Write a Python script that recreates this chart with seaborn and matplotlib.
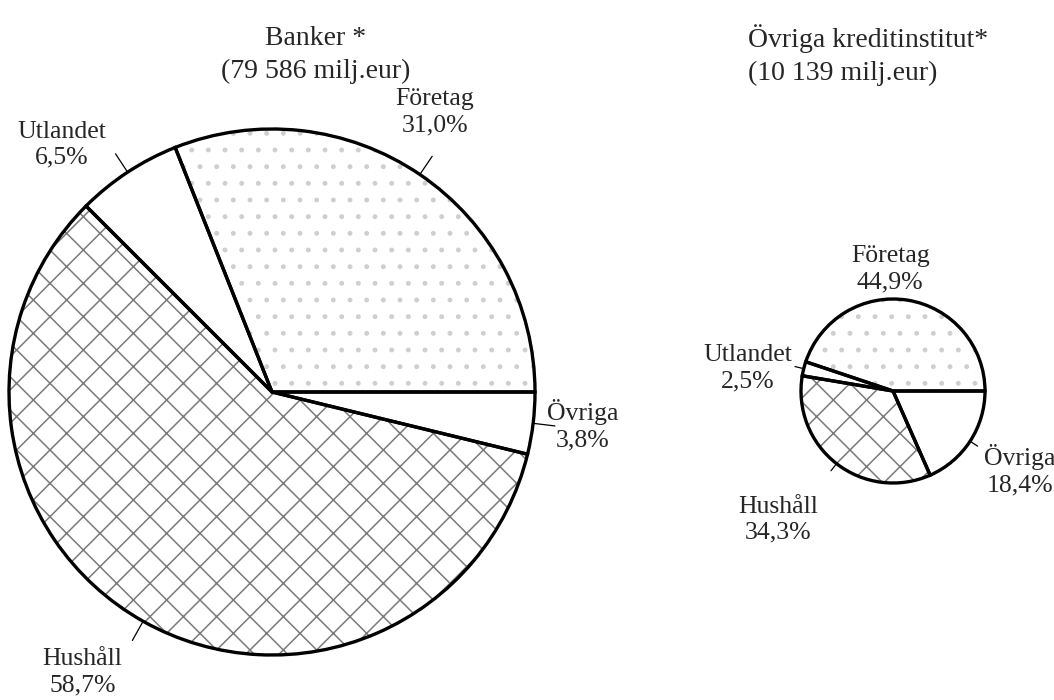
import numpy as np
import matplotlib
matplotlib.use("Agg")
import matplotlib.pyplot as plt
import seaborn as sns

# ------------------------------------------------------------
# Data
# ------------------------------------------------------------
sectors = ["Företag", "Utlandet", "Hushåll", "Övriga"]
banker_share = [31.0, 6.5, 58.7, 3.8]
ovriga_share = [44.9, 2.5, 34.3, 18.4]

banker_title = "Banker *\n(79 586 milj.eur)"
ovriga_title = "Övriga kreditinstitut*\n(10 139 milj.eur)"

# ------------------------------------------------------------
# Style
# ------------------------------------------------------------
sns.set_style("white")
plt.rcParams["font.family"] = ["Liberation Serif", "DejaVu Serif"]
plt.rcParams["hatch.linewidth"] = 1.1

# hatch per sector: dots, blank, lattice, blank
HATCHES = [".", "", "x", ""]
HATCH_COLORS = ["#cfcfcf", "white", "#7a7a7a", "white"]


def pct(v):
    return f"{v:.1f}%".replace(".", ",")


def draw_pie(ax, values, center, radius, label_pos, leader_len, show_leader):
    # layer 1: hatched fills (hatch takes edge colour)
    wedges, _ = ax.pie(values, startangle=0, counterclock=True,
                       center=center, radius=radius, frame=True,
                       wedgeprops=dict(linewidth=0, facecolor="white"))
    for w, h, c in zip(wedges, HATCHES, HATCH_COLORS):
        w.set_hatch(h)
        w.set_edgecolor(c)
    # layer 2: black outlines
    ax.pie(values, startangle=0, counterclock=True,
           center=center, radius=radius, frame=True,
           wedgeprops=dict(linewidth=2.4, facecolor="none",
                           edgecolor="black"))
    for w, name, v, (lx, ly), lead in zip(wedges, sectors, values,
                                          label_pos, show_leader):
        mid = np.deg2rad((w.theta1 + w.theta2) / 2)
        if lead:
            r0, r1 = radius, radius + leader_len
            ax.plot([center[0] + r0 * np.cos(mid), center[0] + r1 * np.cos(mid)],
                    [center[1] + r0 * np.sin(mid), center[1] + r1 * np.sin(mid)],
                    color="black", lw=0.9, clip_on=False)
        ax.text(center[0] + lx * radius, center[1] + ly * radius,
                f"{name}\n{pct(v)}", ha="center", va="center",
                fontsize=18.5, linespacing=1.25)


fig = plt.figure(figsize=(10.54, 7.0), dpi=100)
ax = fig.add_axes([0, 0, 1, 1])

# big pie (Banker)
draw_pie(ax, banker_share, center=(272, 308), radius=263,
         label_pos=[(0.62, 1.065), (-0.80, 0.94), (-0.72, -1.065), (1.18, -0.125)],
         leader_len=22, show_leader=[True, True, True, True])

# small pie (Övriga kreditinstitut)
draw_pie(ax, ovriga_share, center=(893, 309), radius=92,
         label_pos=[(-0.03, 1.32), (-1.58, 0.25), (-1.25, -1.40), (1.38, -0.86)],
         leader_len=9, show_leader=[False, True, True, True])

ax.text(316, 645, banker_title, ha="center", va="center",
        fontsize=20, linespacing=1.4)
ax.text(748, 645, ovriga_title, ha="left", va="center",
        fontsize=20, linespacing=1.4)

ax.set_xlim(0, 1054)
ax.set_ylim(0, 700)
ax.set_aspect("equal")
ax.axis("off")

fig.savefig("out.png", dpi=100)
